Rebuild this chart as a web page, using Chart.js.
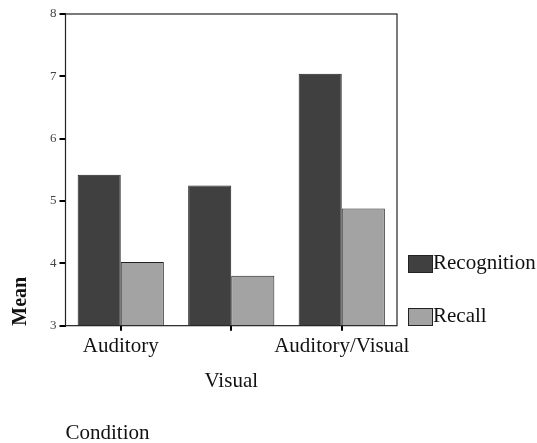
<!DOCTYPE html>
<html>
<head>
<meta charset="utf-8">
<script src="https://cdn.jsdelivr.net/npm/chart.js@4/dist/chart.umd.min.js"></script>
<style>
  html, body { margin: 0; padding: 0; background: #fff; }
  #wrap { width: 537px; height: 443px; }
</style>
</head>
<body>
<div id="wrap"><canvas id="chart"></canvas></div>
<script>
const conditions = ['Auditory', ['', 'Visual'], 'Auditory/Visual']
const recognition = [5.42, 5.25, 7.04]
const recall = [4.02, 3.80, 4.88]
const yTicks = [3, 4, 5, 6, 7, 8]

const serif = '"Liberation Serif", "Times New Roman", serif'

// frame around the plot + hand drawn legend on the right
const framePlugin = {
  id: 'frame',
  afterDraw(chart) {
    const { ctx, chartArea: a } = chart
    ctx.save()
    ctx.strokeStyle = '#222'
    ctx.lineWidth = 1.2
    ctx.strokeRect(a.left, a.top, a.right - a.left, a.bottom - a.top)

    const x = a.right + 11
    let y = 255
    ctx.font = '21px ' + serif
    ctx.textBaseline = 'middle'
    chart.data.datasets.forEach(ds => {
      ctx.fillStyle = ds.backgroundColor
      ctx.fillRect(x, y, 24, 17)
      ctx.strokeStyle = '#222'
      ctx.lineWidth = 1
      ctx.strokeRect(x + 0.5, y + 0.5, 24, 17)
      ctx.fillStyle = '#111'
      ctx.fillText(ds.label, x + 25, y + 8)
      y += 53
    })
    ctx.restore()
  }
}

new Chart(document.getElementById('chart'), {
  type: 'bar',
  data: {
    labels: conditions,
    datasets: [{
      label: 'Recognition',
      data: recognition,
      backgroundColor: '#404040',
      borderColor: '#222',
      borderWidth: 1,
      borderSkipped: false
    }, {
      label: 'Recall',
      data: recall,
      backgroundColor: '#a3a3a3',
      borderColor: '#222',
      borderWidth: 1,
      borderSkipped: false
    }]
  },
  options: {
    responsive: true,
    maintainAspectRatio: false,
    animation: false,
    layout: { padding: { left: 9, top: 14, right: 140, bottom: 0 } },
    datasets: { bar: { categoryPercentage: 0.78, barPercentage: 1 } },
    plugins: {
      legend: { display: false },
      tooltip: { enabled: false }
    },
    scales: {
      x: {
        grid: { display: true, offset: false, drawOnChartArea: false, tickLength: 5, color: '#000', lineWidth: 2 },
        border: { display: false },
        ticks: {
          autoSkip: false, maxRotation: 0, color: '#111', padding: -2,
          font: { family: serif, size: 21, lineHeight: 1.67 }
        },
        title: {
          display: true, text: 'Condition', align: 'start', color: '#111',
          font: { family: serif, size: 21 }, padding: { top: 24, bottom: -3 }
        }
      },
      y: {
        min: 3,
        max: 8,
        afterBuildTicks(axis) { axis.ticks = yTicks.map(v => ({ value: v })) },
        grid: { display: true, drawOnChartArea: false, tickLength: 6, color: '#000', lineWidth: 2 },
        border: { display: false },
        ticks: { color: '#444', padding: 3, font: { family: serif, size: 13 } },
        title: {
          display: true, text: 'Mean', align: 'start', color: '#111',
          font: { family: serif, size: 20, weight: 'bold' }, padding: { top: 0, bottom: 14 }
        }
      }
    }
  },
  plugins: [framePlugin]
})
</script>
</body>
</html>
